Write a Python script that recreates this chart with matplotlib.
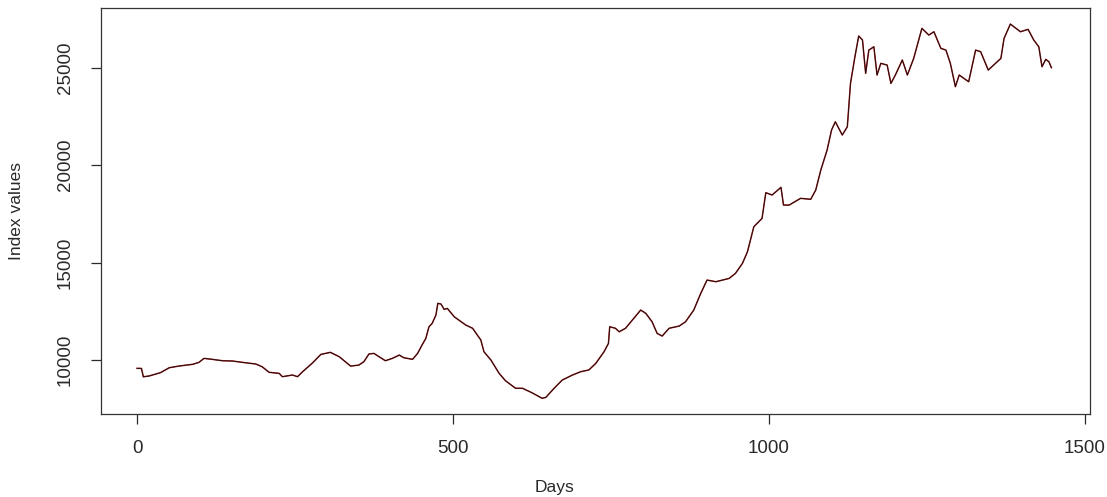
import matplotlib
matplotlib.use("Agg")
import matplotlib.pyplot as plt

# Data (day index, index value)
days = [0, 7, 10, 19, 37, 51, 66, 88, 98, 106, 119, 135, 151, 167, 188, 198, 209,
        225, 230, 246, 254, 262, 277, 291, 306, 320, 338, 351, 359, 367, 375, 383,
        393, 404, 415, 422, 436, 444, 451, 457, 462, 467, 473, 476, 481, 486, 491,
        502, 520, 531, 544, 549, 560, 573, 583, 599, 610, 625, 641, 647, 660, 673,
        689, 702, 715, 726, 739, 746, 748, 757, 763, 773, 784, 797, 805, 815, 823,
        831, 842, 858, 868, 881, 892, 902, 916, 937, 947, 958, 966, 976, 989, 995,
        1005, 1019, 1023, 1032, 1050, 1066, 1074, 1082, 1092, 1099, 1105, 1116,
        1124, 1129, 1136, 1142, 1148, 1153, 1158, 1166, 1171, 1177, 1187, 1193,
        1200, 1211, 1219, 1229, 1242, 1253, 1261, 1272, 1280, 1287, 1295, 1301,
        1316, 1327, 1335, 1347, 1361, 1367, 1372, 1382, 1398, 1410, 1419, 1427,
        1432, 1438, 1443, 1447]
values = [9574, 9570, 9140, 9180, 9350, 9605, 9690, 9780, 9880, 10085, 10035, 9965,
          9950, 9880, 9795, 9656, 9370, 9315, 9145, 9230, 9145, 9400, 9830, 10290,
          10395, 10170, 9690, 9740, 9915, 10310, 10340, 10170, 9965, 10085, 10255,
          10120, 10035, 10340, 10770, 11110, 11710, 11880, 12310, 12910, 12875,
          12600, 12650, 12220, 11800, 11630, 11030, 10425, 10000, 9315, 8940, 8550,
          8550, 8320, 8035, 8085, 8550, 8975, 9230, 9400, 9490, 9830, 10425, 10855,
          11710, 11630, 11450, 11630, 12055, 12565, 12400, 11965, 11370, 11230,
          11630, 11745, 11965, 12565, 13420, 14105, 14020, 14190, 14450, 14960,
          15560, 16840, 17270, 18590, 18470, 18865, 17955, 17955, 18300, 18250,
          18725, 19750, 20780, 21805, 22230, 21550, 21975, 24200, 25570, 26630,
          26425, 24715, 25910, 26080, 24630, 25230, 25140, 24200, 24630, 25400,
          24630, 25485, 27025, 26680, 26850, 26000, 25910, 25230, 24030, 24630,
          24285, 25910, 25825, 24885, 25310, 25485, 26510, 27245, 26850, 26975,
          26425, 26080, 25055, 25435, 25310, 25005]

x_ticks = [0, 500, 1000, 1500]
y_ticks = [10000, 15000, 20000, 25000]

plt.rcParams['font.family'] = ['Liberation Sans', 'DejaVu Sans']

fig = plt.figure(figsize=(11.07, 4.97), dpi=100)
ax = fig.add_axes([101 / 1107, 1 - 414 / 497, 989 / 1107, 406 / 497])

ax.plot(days, values, color='#c02020', lw=1.1, solid_joinstyle='round')
ax.plot(days, values, color='#111111', lw=0.65, solid_joinstyle='round')

ax.set_xlim(-57, 1508)
ax.set_ylim(7230, 28070)

ax.set_xticks(x_ticks)
ax.set_yticks(y_ticks)
ax.set_xticklabels([str(t) for t in x_ticks])
ax.set_yticklabels([str(t) for t in y_ticks], rotation=90, va='center')

txt_col = '#2a2a2a'
ax.tick_params(axis='both', direction='out', length=7.5, width=0.9,
               colors=txt_col, labelsize=13.5)
ax.tick_params(axis='x', pad=11)
ax.tick_params(axis='y', pad=12)

for s in ax.spines.values():
    s.set_color('#333333')
    s.set_linewidth(0.9)

ax.set_xlabel('Days', fontsize=12.5, color=txt_col)
ax.set_ylabel('Index values', fontsize=12.5, color=txt_col)
ax.xaxis.set_label_coords(0.459, -0.182)
ax.yaxis.set_label_coords(-0.085, 0.5)
ax.xaxis.label.set_va('center')
ax.yaxis.label.set_va('center')

fig.savefig('out.png', dpi=100, facecolor='white')
